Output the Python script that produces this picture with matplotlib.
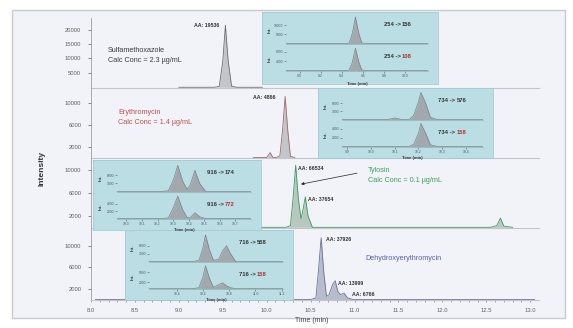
import matplotlib.pyplot as plt
from matplotlib.patches import Rectangle

plt.rcParams['font.family'] = ['Liberation Sans', 'DejaVu Sans']

W, H = 573, 328

# ================= MAIN TRACES (time in min, intensity in counts) =================
sulfa_t = [9.00, 9.40, 9.46, 9.50, 9.53, 9.56, 9.60, 9.66, 9.95]
sulfa_i = [0, 0, 300, 9000, 21500, 9500, 400, 0, 0]

ery_t = [9.85, 10.00, 10.04, 10.07, 10.11, 10.15, 10.18, 10.21, 10.24, 10.27, 10.32]
ery_i = [0, 0, 900, 0, 0, 300, 5000, 11300, 5000, 200, 0]

tylo_t = [9.90, 10.22, 10.27, 10.30, 10.33, 10.36, 10.39, 10.41, 10.44, 10.47, 10.52,
          12.55, 12.62, 12.66, 12.70, 12.80]
tylo_i = [0, 0, 300, 5000, 10800, 5000, 1500, 2800, 5300, 2000, 0,
          0, 300, 1600, 200, 0]

dehy_t = [8.05, 10.50, 10.56, 10.59, 10.62, 10.65, 10.68, 10.71, 10.75, 10.78, 10.81,
          10.84, 10.88, 10.92, 10.98, 13.05]
dehy_i = [0, 0, 300, 5500, 11500, 5000, 600, 900, 2800, 3500, 1500,
          900, 1200, 300, 0, 0]

x_ticks = [8.0, 8.5, 9.0, 9.5, 10.0, 10.5, 11.0, 11.5, 12.0, 12.5, 13.0]

# ================= INSET TRACES =================
s1_t = [8.87, 9.42, 9.47, 9.50, 9.53, 9.56, 9.59, 9.64, 10.22]
s1_up = [0, 0, 300, 5500, 14500, 6000, 400, 0, 0]
s1_lo = [0, 0, 200, 3500, 9500, 4000, 300, 0, 0]
s1_xticks = [9.0, 9.2, 9.4, 9.6, 9.8, 10.0]

e2_t = [9.88, 10.07, 10.10, 10.13, 10.16, 10.18, 10.20, 10.21, 10.23, 10.25, 10.28, 10.47]
e2_up = [0, 0, 600, 0, 0, 1500, 6500, 9800, 6000, 800, 0, 0]
e2_lo = [0, 0, 0, 0, 0, 500, 3000, 5200, 3000, 400, 0, 0]
e2_xticks = [9.9, 10.0, 10.1, 10.2, 10.3, 10.4]

t3_t = [9.94, 10.22, 10.27, 10.30, 10.33, 10.36, 10.39, 10.41, 10.44, 10.47, 10.51, 10.80]
t3_up = [0, 0, 300, 4000, 9500, 4000, 800, 2500, 7700, 3000, 0, 0]
t3_lo = [0, 0, 200, 2800, 6000, 2500, 300, 300, 1600, 500, 0, 0]
t3_xticks = [10.0, 10.1, 10.2, 10.3, 10.4, 10.5, 10.6, 10.7]

d4_t = [10.19, 10.52, 10.57, 10.60, 10.62, 10.65, 10.68, 10.72, 10.75, 10.78, 10.81, 10.85, 11.21]
d4_up = [0, 0, 400, 5000, 10000, 4500, 500, 800, 4000, 5900, 3000, 0, 0]
d4_lo = [0, 0, 300, 3500, 7000, 3200, 400, 1200, 1800, 900, 300, 0, 0]
d4_xticks = [10.4, 10.6, 10.8, 11.0, 11.2]


def frac(x0, y0, x1, y1):
    return [x0 / W, 1 - y1 / H, (x1 - x0) / W, (y1 - y0) / H]


def ftext(x, y, s, **kw):
    return fig.text(x / W, 1 - y / H, s, **kw)


def draw_trace(ax, t, i, line, fill, lw=0.6):
    ax.fill_between(t, i, 0, color=fill, lw=0)
    ax.plot(t, i, color=line, lw=lw)


fig = plt.figure(figsize=(W / 100, H / 100), dpi=100)
fig.patch.set_facecolor('white')
fig.patches.append(Rectangle((12 / W, 1 - 318 / H), 553 / W, 308 / H,
                             transform=fig.transFigure, fc='#f2f3f8',
                             ec='#c9c9d1', lw=1.0, zorder=-5))

# ================= STACKED PANELS =================
panels = [
    dict(rows=(18, 88), ylim=(-250, 24000), yticks=[5000, 10000, 15000, 20000],
         t=sulfa_t, i=sulfa_i, line='#6e6e6e', fill='#c3c5cb'),
    dict(rows=(88, 158), ylim=(-100, 12860), yticks=[2000, 6000, 10000],
         t=ery_t, i=ery_i, line='#a06868', fill='#c3c5cb'),
    dict(rows=(158, 228), ylim=(-120, 12040), yticks=[2000, 6000, 10000],
         t=tylo_t, i=tylo_i, line='#3f9a5c', fill='#b7c8c0'),
    dict(rows=(228, 300), ylim=(-90, 13300), yticks=[2000, 6000, 10000],
         t=dehy_t, i=dehy_i, line='#6a72a2', fill='#b9bccb'),
]

axes = []
for k, p in enumerate(panels):
    ax = fig.add_axes(frac(91, p['rows'][0], 539, p['rows'][1]))
    ax.set_facecolor('none')
    draw_trace(ax, p['t'], p['i'], p['line'], p['fill'])
    ax.set_xlim(8.0, 13.1)
    ax.set_ylim(*p['ylim'])
    ax.set_yticks(p['yticks'])
    ax.set_yticklabels([str(v) for v in p['yticks']])
    ax.tick_params(axis='y', labelsize=4.2, colors='#606060', length=2, width=0.5, pad=5)
    for s in ['top', 'right']:
        ax.spines[s].set_visible(False)
    ax.spines['left'].set_color('#9c9ca4')
    ax.spines['left'].set_linewidth(0.6)
    ax.spines['bottom'].set_color('#c4c4cc')
    ax.spines['bottom'].set_linewidth(0.8)
    if k < 3:
        ax.set_xticks([])
    else:
        ax.set_xticks(x_ticks)
        ax.set_xticklabels(['%.1f' % v for v in x_ticks])
        ax.set_xticks([v / 10 for v in range(80, 131)], minor=True)
        ax.tick_params(axis='x', which='both', labelsize=4.2, colors='#606060',
                       length=1.5, width=0.4, pad=4)
    axes.append(ax)

ax1, ax2, ax3, ax4 = axes

# peak area labels
lab = dict(fontsize=3.8, color='#333333', fontweight='bold', va='center')
ax1.text(9.46, 21300, 'AA: 19536', ha='right', **lab)
ax2.text(10.10, 11100, 'AA: 4866', ha='right', **lab)
ax3.text(10.36, 10200, 'AA: 66534', ha='left', **lab)
ax3.text(10.47, 4800, 'AA: 37654', ha='left', **lab)
ax4.text(10.67, 11200, 'AA: 37926', ha='left', **lab)
ax4.text(10.81, 3050, 'AA: 13999', ha='left', **lab)
ax4.text(10.97, 1000, 'AA: 6766', ha='left', **lab)

ax3.annotate('', xy=(10.36, 7400), xytext=(11.06, 9500),
             arrowprops=dict(arrowstyle='-|>', color='#222222', lw=0.5,
                             mutation_scale=4))

# compound names
name = dict(fontsize=5.2, va='center', ha='left')
ftext(108, 50, 'Sulfamethoxazole', color='#3c3c3c', **name)
ftext(108, 60, 'Calc Conc = 2.3 µg/mL', color='#3c3c3c', **name)
ftext(118, 113, 'Erythromycin', color='#c0504d', **name)
ftext(118, 122, 'Calc Conc = 1.4 µg/mL', color='#c0504d', **name)
ftext(368, 170, 'Tylosin', color='#3aa05a', **name)
ftext(368, 180, 'Calc Conc = 0.1 µg/mL', color='#3aa05a', **name)
ftext(365, 258, 'Dehydroxyerythromycin', color='#5b5ea6', **name)

ftext(42, 168, 'Intensity', rotation=90, fontsize=6, fontweight='bold',
      color='#333333', ha='center', va='center')
ftext(312, 320, 'Time (min)', fontsize=5, color='#444444', ha='center', va='center')

# ================= INSETS =================
insets = [
    dict(box=(262, 12, 438, 84), t=s1_t, up=s1_up, lo=s1_lo, xlim=(8.87, 10.22),
         xticks=s1_xticks, yup=(-200, 15000), ylo=(-150, 10000),
         ytu=[5000, 10000], ytl=[4000, 8000], lu=('254 -> ', '156'), ll=('254 -> ', '108')),
    dict(box=(318, 88, 493, 158), t=e2_t, up=e2_up, lo=e2_lo, xlim=(9.88, 10.47),
         xticks=e2_xticks, yup=(-150, 10000), ylo=(-100, 5300),
         ytu=[3000, 6000], ytl=[2000, 4000], lu=('734 -> ', '576'), ll=('734 -> ', '158')),
    dict(box=(93, 160, 261, 230), t=t3_t, up=t3_up, lo=t3_lo, xlim=(9.94, 10.80),
         xticks=t3_xticks, yup=(-150, 10000), ylo=(-100, 6300),
         ytu=[3000, 6000], ytl=[2000, 4000], lu=('916 -> ', '174'), ll=('916 -> ', '772')),
    dict(box=(125, 230, 293, 300), t=d4_t, up=d4_up, lo=d4_lo, xlim=(10.19, 11.21),
         xticks=d4_xticks, yup=(-150, 10300), ylo=(-100, 7200),
         ytu=[3000, 6000], ytl=[2000, 5000], lu=('716 -> ', '558'), ll=('716 -> ', '158')),
]

for ins in insets:
    bx0, by0, bx1, by1 = ins['box']
    bg = fig.add_axes(frac(bx0, by0, bx1, by1))
    bg.set_facecolor('#badee4')
    bg.set_xticks([])
    bg.set_yticks([])
    for s in bg.spines.values():
        s.set_color('#a3cbd2')
        s.set_linewidth(0.6)

    rows = [(by0 + 4, by0 + 32, ins['up'], ins['yup'], ins['ytu']),
            (by0 + 35, by0 + 59, ins['lo'], ins['ylo'], ins['ytl'])]
    for j, (r0, r1, vals, yl, yt) in enumerate(rows):
        sub = fig.add_axes(frac(bx0 + 24, r0, bx1 - 10, r1))
        sub.set_facecolor('none')
        draw_trace(sub, ins['t'], vals, '#7b848a', '#a2a9ae', lw=0.5)
        sub.set_xlim(*ins['xlim'])
        sub.set_ylim(*yl)
        sub.set_yticks(yt)
        sub.set_yticklabels([str(v) for v in yt])
        sub.tick_params(axis='y', labelsize=2.4, colors='#4a5a60', length=1.2,
                        width=0.4, pad=1)
        for s in ['top', 'right', 'left']:
            sub.spines[s].set_visible(False)
        sub.spines['bottom'].set_color('#8aa8ae')
        sub.spines['bottom'].set_linewidth(0.4)
        if j == 0:
            sub.set_xticks([])
        else:
            sub.set_xticks(ins['xticks'])
            sub.set_xticklabels(['%.1f' % v for v in ins['xticks']])
            sub.tick_params(axis='x', labelsize=2.4, colors='#4a5a60', length=1.2,
                            width=0.4, pad=0.8)
        ftext(bx0 + 8, (r0 + r1) / 2, 'Int.', rotation=90, fontsize=3.2,
              fontweight='bold', color='#333333', ha='center', va='center')

    for (pre, prod), yy, col in [(ins['lu'], by0 + 13, '#333333'),
                                 (ins['ll'], by0 + 45, '#b03030')]:
        ftext(bx1 - 36, yy, pre, fontsize=4.2, fontweight='bold', color='#333333',
              ha='right', va='center')
        ftext(bx1 - 36, yy, prod, fontsize=4.2, fontweight='bold', color=col,
              ha='left', va='center')

    ftext((bx0 + bx1) / 2 + 7, by1 + 0.5, 'Time (min)', fontsize=3.0,
          fontweight='bold', color='#333333', ha='center', va='center')

fig.savefig('out.png', dpi=100)
